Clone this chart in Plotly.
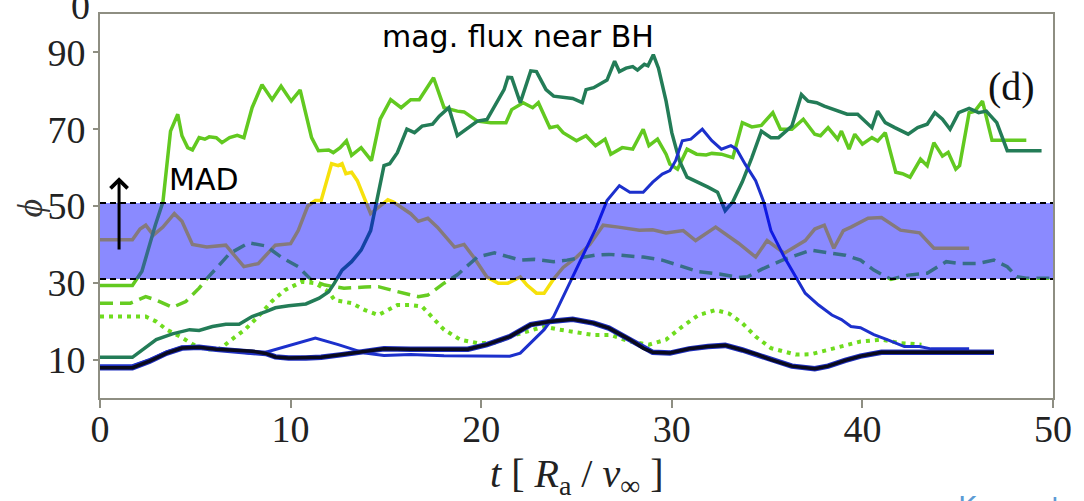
import plotly.graph_objects as go

# ---------------- data ----------------
t_l1 = [0, 1.7, 2.2, 2.9, 3.3, 3.7, 4.08, 4.3, 4.6, 4.85, 5.2, 5.5, 5.73, 6.1, 6.4, 6.8, 7.2, 7.55,
        7.98, 8.5, 9.03, 9.5, 10.03, 10.5, 11.1, 11.46, 12.0, 12.24, 12.6, 12.93, 13.2, 13.7, 14.24,
        14.7, 15.25, 15.8, 16.3, 16.75, 17.5, 18.05, 18.75, 19.1, 19.8, 20.5, 21.3, 21.6, 22.2, 22.7,
        23.0, 23.6, 24.0, 24.3, 25.0, 25.5, 26.0, 26.5, 26.8, 27.4, 27.95, 28.5, 28.8, 29.25, 29.7,
        29.9, 30.3, 30.8, 31.3, 31.8, 32.1, 32.6, 33.2, 33.7, 34.2, 34.7, 35.3, 35.7, 36.3, 36.9,
        37.5, 37.8, 38.2, 38.7, 38.9, 39.3, 39.6, 40.0, 40.5, 40.8, 41.2, 41.75, 42.1, 42.5, 43.05,
        43.4, 43.75, 44.2, 44.5, 44.9, 45.1, 45.6, 45.9, 46.3, 46.8, 48.6]
v_l1 = [29.3, 29.3, 33, 45, 51, 69.5, 73.9, 68.3, 65.2, 64.6, 67.8, 67.4, 68, 67.8, 66.5, 67.8, 68.4, 67.8,
        75.6, 81.6, 77.7, 81.2, 77.3, 80.2, 67.8, 64.4, 64.6, 63.9, 65.2, 67, 63.2, 65.2, 61.8,
        72.6, 77.7, 75.6, 77.7, 77.7, 83.4, 75.6, 74.7, 74.5, 72.1, 71.7, 71.7, 75.1, 76.9, 75.6,
        76.9, 70.4, 70.8, 69.1, 67, 68.3, 65.7, 67.4, 63.5, 65.2, 64.8, 70, 65.7, 67.4, 63.5,
        60.9, 59.6, 64.8, 63.5, 63.3, 63.7, 63.5, 62.6, 71.7, 70.6, 71, 74.3, 70, 70, 72.6,
        68.7, 68.3, 70.4, 67.4, 69.5, 64.8, 68.7, 66.1, 67.8, 66.9, 69.1, 58.8, 58.4, 57.5, 62.2,
        60.5, 66.5, 63, 64, 59.6, 60.5, 74.3, 74.7, 77.3, 67.1, 67.1]

t_d1 = [0, 1.7, 2.95, 3.8, 4.7, 5.2, 5.9, 6.6, 7.3, 7.98, 8.7, 9.2, 9.9, 10.8, 11.5, 12.0, 12.3, 12.7,
        13.2, 13.7, 14.2, 14.5, 14.9, 15.2, 15.6, 16.1, 16.5, 16.9, 17.45, 17.8, 18.3, 18.75, 19.3,
        19.8, 20.3, 20.75, 21.2, 21.4, 21.6, 22.05, 22.6, 22.9, 23.4, 23.8, 24.3, 24.8, 25.3, 25.5,
        25.9, 26.2, 26.6, 27.0, 27.25, 27.6, 27.95, 28.2, 28.56, 28.75, 29.03, 29.3, 29.7, 30.0,
        30.4, 30.8, 31.4, 31.9, 32.4, 32.8, 33.2, 33.7, 34.2, 34.7, 35.2, 35.6, 36.3, 36.8, 37.15,
        37.6, 38.0, 38.7, 39.2, 39.75, 40.3, 40.5, 40.8, 41.2, 41.7, 42.4, 42.9, 43.4, 43.8, 44.2,
        44.6, 45.05, 45.6, 46.1, 46.5, 47.05, 47.6, 49.4]
v_d1 = [10.6, 10.6, 15.2, 16.7, 17.8, 17.6, 18.6, 19.2, 19.2, 21.2, 22.5, 23.5, 24, 24.5, 26, 27.7, 29.9, 33.3,
        35.5, 38.5, 43.6, 51, 60.5, 61, 63.9, 70, 69.1, 70.8, 71.3, 73.4, 75.6, 68.3, 70.4,
        72.1, 72.5, 76.4, 80.3, 83.5, 83.4, 76.9, 85.2, 85, 80.3, 78.6, 78.3, 78, 76.9, 80.3,
        80.8, 81.6, 82.8, 87.7, 85, 85.9, 86.3, 85.4, 86.9, 86.5, 89.4, 85.9, 77.3, 69.1,
        61.8, 57.5, 56.2, 54.9, 53.6, 48.8, 51.1, 56.3, 62.6, 69.5, 67.8, 67.8, 70.8, 79, 77.3,
        76.9, 76, 74.7, 73.9, 73.9, 71.3, 70.4, 74.7, 71.7, 70.4, 68.7, 70.4, 71.3, 74.3, 72.6,
        70, 74.3, 75.4, 74.3, 74.7, 71.7, 64.4, 64.4]

t_yel = [0, 1.7, 2.1, 2.4, 2.8, 3.3, 3.9, 4.3, 4.85, 5.6, 6.6, 7.55, 8.3, 9.2, 10.0, 10.4, 10.9, 11.3,
         11.6, 12.15, 12.5, 12.7, 12.9, 13.2, 13.5, 13.9, 14.2, 14.7, 15.1, 15.4, 16.3, 16.7, 17.2,
         17.7, 18.6, 19.1, 19.6, 20.3, 20.9, 21.4, 22.05, 22.4, 22.9, 23.3, 23.8, 24.3, 25.0, 25.7,
         26.4, 27.2, 28.3, 29.0, 29.7, 30.6, 31.25, 32.3, 33.0, 33.5, 34.4, 35.0, 35.9, 37.0, 37.5,
         38.0, 38.5, 39.0, 39.4, 40.3, 41.0, 42.0, 43.0, 43.75, 45.6]
v_yel = [41.2, 41.2, 44, 45, 42.4, 44.5, 48, 46, 40, 39.3, 39.8, 34.2, 35, 39.8, 40.2, 43.6, 50, 51.4,
         51.4, 61, 60.5, 61, 58.4, 58.8, 56.6, 51.4, 48, 50, 51.6, 51, 48, 46, 46.8,
         44.5, 39.3, 40, 36.7, 31.5, 29.9, 29.9, 31.5, 29.4, 27.3, 27.3, 31, 34, 36.7, 40,
         45, 44.5, 43.7, 43.8, 43, 43.6, 41, 44.5, 42, 40.3, 36.7, 41, 37.7, 41, 44,
         45, 39, 43.6, 44.5, 46.8, 47, 43.7, 43, 39, 39]

t_ldash = [0, 1.6, 2.4, 2.95, 3.8, 4.5, 5.2, 5.7, 6.8, 7.8, 8.7, 9.5, 10.4, 11.1, 11.8, 12.8, 13.9,
           14.6, 15.6, 16.7, 17.2, 18.05, 18.75, 19.8, 20.7, 21.5, 22.05, 22.8, 23.8, 24.5, 25.3,
           26.0, 26.7, 27.4, 28.5, 29.5, 30.55, 31.4, 32.5, 33.5, 34.0, 34.7, 35.8, 36.5, 37.3,
           38.2, 39.1, 39.9, 40.6, 41.5, 42.4, 43.4, 44.4, 45.1, 46.0, 46.9, 47.6, 48.1, 48.6, 50]
v_ldash = [24.7, 24.7, 26.4, 25.5, 23.6, 25.1, 28.6, 31.6, 37.6, 40.4, 39.6, 36.7, 34.2, 30.7, 29.4, 28.6, 28.9,
           29, 27.7, 26.4, 26.8, 29.9, 32.1, 36.7, 37.8, 36.7, 35.9, 36.1, 35.5, 35.9, 36.7,
           37.2, 37.4, 37.2, 36.7, 35.9, 34.2, 32.9, 32.3, 31.4, 31.6, 33.5, 35.9, 37.2, 38.5,
           37.8, 37.2, 35.9, 33.3, 30.9, 32, 32.5, 35.5, 35, 35, 35.9, 34.2, 31.6, 31.2, 31.2]

t_ldot = [0, 2.4, 2.95, 3.5, 4.2, 4.9, 5.6, 6.3, 6.9, 7.6, 8.3, 9.0, 9.7, 10.6, 11.3, 12.0, 12.3, 13.2,
          13.9, 14.6, 15.6, 16.3, 16.9, 17.4, 18.05, 18.9, 19.8, 20.7, 21.5, 22.4, 23.3, 24.1, 25.0,
          25.9, 26.8, 27.8, 28.8, 29.7, 30.55, 31.4, 32.3, 33.0, 33.7, 34.4, 35.2, 36.5, 37.3, 38.2,
          39.1, 39.9, 41.0, 42.0, 43.1]
v_ldot = [21.2, 21.2, 19.9, 17.8, 16, 13.9, 12.6, 12.8, 15.2, 17.8, 21.2, 25.1, 28.1, 30.3, 29.9, 27.7, 25.5, 24.7,
          22.9, 21.6, 24.2, 24.2, 23.8, 21.2, 17.8, 15.2, 14.3, 14.3, 16, 17.3, 18.6, 17.8, 17,
          16.4, 16.4, 14.7, 13.9, 15.2, 18.6, 21.6, 22.9, 22, 19.5, 16, 13, 11.3, 11.4, 12.6,
          13.9, 14.7, 15.2, 14.3, 13.9]

t_blue = [0, 1.7, 2.6, 3.5, 4.3, 5.0, 6.0, 6.9, 7.8, 8.7, 9.7, 11.3, 12.5, 13.9, 14.9, 16.3, 18.05,
          19.8, 21.5, 22.05, 22.6, 23.3, 23.8, 24.3, 24.8, 25.5, 26.0, 26.6, 27.25, 27.8, 28.5, 29.0,
          29.5, 29.9, 30.2, 30.55, 31.0, 31.6, 32.1, 32.6, 33.1, 33.4, 33.85, 34.4, 34.8, 35.2, 35.9,
          36.5, 37.0, 37.7, 38.4, 38.9, 39.4, 39.9, 40.6, 41.3, 42.2, 43.0, 43.6, 45.6]
v_blue = [8.4, 8.4, 10, 12, 13.2, 13.3, 12.9, 12.3, 11.7, 11.9, 13.4, 15.6, 13.9, 11.7, 11.1, 11.3, 11,
          10.9, 10.9, 11.7, 14.3, 17.8, 21.2, 26.4, 31.6, 38.5, 44, 51.4, 55.3, 53.6, 53.6, 56.2,
          58.3, 59.2, 61.8, 67, 67.4, 70, 67, 64.8, 65.7, 64.8, 60.9, 56.6, 51.4, 43.6, 36.7,
          31.6, 27.3, 24.2, 21.6, 20.4, 18.6, 18.3, 16.5, 15.2, 13.4, 13.4, 12.8, 12.8]

t_black = [0, 1.7, 2.6, 3.5, 4.3, 5.2, 6.1, 6.9, 7.98, 8.7, 9.2, 9.9, 10.8, 11.6, 12.7, 13.9, 14.9,
           16.3, 18.05, 19.3, 20.3, 21.5, 22.6, 23.6, 24.8, 25.9, 26.7, 27.8, 28.5, 29.0, 29.9, 30.9,
           31.9, 32.8, 33.7, 34.5, 35.2, 36.3, 37.5, 38.2, 39.1, 39.9, 41.0, 42.4, 43.4, 44.5, 46.9]
v_black = [7.9, 7.9, 9.6, 11.7, 13, 13.2, 12.7, 12.4, 12.2, 11.6, 10.7, 10.4, 10.4, 10.6, 11.3, 12.2, 12.8,
           12.7, 12.8, 12.7, 13.9, 16, 19.1, 19.9, 20.5, 19.5, 18.2, 15.2, 13, 11.9, 11.7, 12.8,
           13.4, 13.7, 12.5, 11.3, 10, 8.3, 7.6, 8.3, 9.8, 10.9, 11.9, 11.9, 11.7, 11.7, 11.9]

mad_low, mad_high = 31.0, 50.8
x_ticks = [0, 10, 20, 30, 40, 50]
y_ticks = [10, 30, 50, 70, 90]

# ---------------- figure ----------------
fig = go.Figure()

def add_line(t, v, color, width, dash=None):
    fig.add_trace(go.Scatter(x=t, y=v, mode="lines",
                             line=dict(color=color, width=width, dash=dash),
                             hoverinfo="skip"))

add_line(t_yel, v_yel, "#f6e10c", 3.5)
add_line(t_ldash, v_ldash, "#66cc22", 3.5, "13px,7px")
add_line(t_ldot, v_ldot, "#6fdc1e", 4, "4px,5px")
add_line(t_l1, v_l1, "#62c920", 3.5)
add_line(t_d1, v_d1, "#237c57", 3.5)
add_line(t_blue, v_blue, "#1c30cc", 3)
add_line(t_black, v_black, "#2030c0", 5.5)
add_line(t_black, v_black, "#0a0a1e", 3.5)

# MAD band (semi-transparent, on top of the lines)
fig.add_shape(type="rect", xref="paper", x0=0, x1=1, yref="y", y0=mad_low, y1=mad_high,
              fillcolor="rgba(0,0,255,0.46)", line_width=0, layer="above")
for yv in (mad_low, mad_high):
    fig.add_shape(type="line", xref="paper", x0=0, x1=1, yref="y", y0=yv, y1=yv,
                  line=dict(color="black", width=2, dash="6px,4px"), layer="above")

axis_common = dict(showline=True, linecolor="#8e8e82", linewidth=2, mirror=True,
                   ticks="outside", tickcolor="#8e8e82", tickwidth=1.5,
                   showgrid=False, zeroline=False,
                   tickfont=dict(family="Liberation Serif", size=38, color="#222222"))

fig.update_xaxes(range=[0, 50], tickvals=x_ticks, ticklen=8, ticklabelstandoff=-12, **axis_common)
fig.update_yaxes(range=[0, 100], tickvals=y_ticks, ticklen=5, ticklabelstandoff=0, **axis_common)

ann = []
ann.append(dict(text="mag. flux near BH", x=0.4385, y=0.9404, xref="paper", yref="paper",
                xanchor="center", yanchor="middle", showarrow=False,
                font=dict(family="DejaVu Sans", size=30, color="black")))
ann.append(dict(text="MAD", x=0.0698, y=0.57, xref="paper", yref="paper",
                xanchor="left", yanchor="middle", showarrow=False,
                font=dict(family="DejaVu Sans", size=30, color="black")))
ann.append(dict(text="(d)", x=0.956, y=0.81, xref="paper", yref="paper",
                xanchor="center", yanchor="middle", showarrow=False,
                font=dict(family="Liberation Serif", size=40, color="#111111")))
ann.append(dict(text="<i>ϕ</i>", x=-0.074, y=0.495, xref="paper", yref="paper",
                xanchor="center", yanchor="middle", showarrow=False, textangle=-90,
                font=dict(family="Liberation Serif", size=36, color="#333333")))
ann.append(dict(text="<i>t</i> [ <i>R</i><sub>a</sub> / <i>v</i><sub>∞</sub> ]", x=0.5, y=-0.202,
                xref="paper", yref="paper", xanchor="center", yanchor="middle", showarrow=False,
                font=dict(family="Liberation Serif", size=40, color="#222222")))
ann.append(dict(text="0", x=-0.0208, y=1.022, xref="paper", yref="paper",
                xanchor="center", yanchor="middle", showarrow=False,
                font=dict(family="Liberation Serif", size=38, color="#222222")))
ann.append(dict(text="Kaaz et al.", x=0.898, y=-0.2358, xref="paper", yref="paper",
                xanchor="left", yanchor="top", showarrow=False,
                font=dict(family="DejaVu Sans", size=28, color="#5b9bd5")))
ann.append(dict(text="", x=1, y=57.5, ax=1, ay=38.3, xref="x", yref="y", axref="x", ayref="y",
                showarrow=True, arrowhead=4, arrowsize=1.1, arrowwidth=3, arrowcolor="black"))

fig.update_layout(width=1084, height=501, margin=dict(l=100, r=24, t=12, b=103),
                  plot_bgcolor="white", paper_bgcolor="white", showlegend=False,
                  annotations=ann)

fig.write_html("out.html")
